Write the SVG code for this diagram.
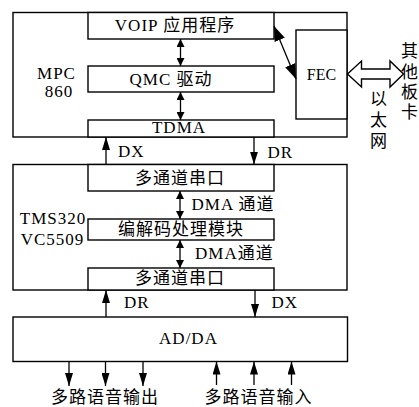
<svg xmlns="http://www.w3.org/2000/svg" width="419" height="407" viewBox="0 0 419 407">
<style>
.b{fill:#fff;stroke:#000;stroke-width:1.4}
.t{font-family:"Liberation Serif","Noto Sans CJK SC",serif;font-size:17px;letter-spacing:1px;fill:#000}
.m{text-anchor:middle}
.c{stroke:#000;stroke-width:1.3;fill:none}
</style>
<defs>
<marker id="s" markerUnits="userSpaceOnUse" markerWidth="8" markerHeight="8" refX="8" refY="4" orient="auto-start-reverse"><path d="M0,0L8,4L0,8z" fill="#000"/></marker>
<marker id="l" markerUnits="userSpaceOnUse" markerWidth="13" markerHeight="8" refX="13" refY="4" orient="auto-start-reverse"><path d="M0,0L13,4L0,8z" fill="#000"/></marker>
<marker id="d" markerUnits="userSpaceOnUse" markerWidth="15" markerHeight="11" refX="15" refY="5.5" orient="auto-start-reverse"><path d="M0,0L15,5.5L0,11z" fill="#000"/></marker>
</defs>
<g id="mpc860">
<rect class="b" x="13" y="12.5" width="334" height="124.5"/>
<text class="t m" x="56.5" y="79">MPC</text>
<text class="t m" x="59" y="97">860</text>
</g>
<g id="voip"><rect class="b" x="88" y="12.5" width="186" height="26.5"/><text class="t m" x="175" y="31">VOIP 应用程序</text></g>
<g id="qmc"><rect class="b" x="88" y="66" width="186" height="26"/><text class="t m" x="171" y="85">QMC 驱动</text></g>
<g id="tdma"><rect class="b" x="88" y="120" width="186" height="17"/><text class="t m" x="179" y="133">TDMA</text></g>
<g id="fec"><rect class="b" x="296" y="30" width="51" height="89"/><text class="t m" x="321.5" y="80" style="font-size:16px;letter-spacing:0">FEC</text></g>
<g id="tms320">
<rect class="b" x="13" y="164.5" width="334" height="125.5"/>
<text class="t m" x="53" y="224">TMS320</text>
<text class="t m" x="52.5" y="245">VC5509</text>
</g>
<g id="serial1"><rect class="b" x="88" y="164.5" width="186" height="26.5"/><text class="t m" x="180" y="184">多通道串口</text></g>
<g id="codec"><rect class="b" x="88" y="219" width="186" height="21"/><text class="t m" x="181" y="235">编解码处理模块</text></g>
<g id="serial2"><rect class="b" x="88" y="268" width="186" height="22"/><text class="t m" x="180" y="284">多通道串口</text></g>
<g id="adda"><rect class="b" x="13" y="317" width="334.5" height="44.5"/><text class="t m" x="188.5" y="344">AD/DA</text></g>
<g id="other">
<text class="t m" x="410" y="56.5">其</text>
<text class="t m" x="410" y="77.5">他</text>
<text class="t m" x="410" y="97.5">板</text>
<text class="t m" x="410" y="117.5">卡</text>
</g>
<g id="connectors">
<line class="c" x1="180.5" y1="39" x2="180.5" y2="66" marker-start="url(#s)" marker-end="url(#s)"/>
<line class="c" x1="180.5" y1="92" x2="180.5" y2="120" marker-start="url(#s)" marker-end="url(#s)"/>
<line class="c" x1="274" y1="26" x2="296" y2="79" marker-start="url(#d)" marker-end="url(#d)"/>
<polygon class="b" points="347.5,74 361.5,61 361.5,69 390,69 390,61 403.5,74 390,87 390,79 361.5,79 361.5,87"/>
<text class="t m" x="379" y="104.5">以</text>
<text class="t m" x="379" y="125.5">太</text>
<text class="t m" x="379" y="146.5">网</text>
<line class="c" x1="106" y1="164.5" x2="106" y2="137" marker-end="url(#l)"/>
<text class="t" x="118" y="157">DX</text>
<line class="c" x1="254" y1="137" x2="254" y2="164.5" marker-end="url(#l)"/>
<text class="t" x="267.5" y="158">DR</text>
<line class="c" x1="180" y1="191" x2="180" y2="219" marker-start="url(#s)" marker-end="url(#s)"/>
<text class="t" x="191.5" y="210">DMA 通道</text>
<line class="c" x1="180" y1="240" x2="180" y2="268" marker-start="url(#s)" marker-end="url(#s)"/>
<text class="t" x="195" y="259">DMA通道</text>
<line class="c" x1="106" y1="317" x2="106" y2="290" marker-end="url(#l)"/>
<text class="t" x="124" y="308">DR</text>
<line class="c" x1="255" y1="290" x2="255" y2="317" marker-end="url(#l)"/>
<text class="t" x="271.5" y="308">DX</text>
<line class="c" x1="69" y1="361.5" x2="69" y2="386" marker-end="url(#l)"/>
<line class="c" x1="105.5" y1="361.5" x2="105.5" y2="386" marker-end="url(#l)"/>
<line class="c" x1="143" y1="361.5" x2="143" y2="386" marker-end="url(#l)"/>
<line class="c" x1="216.5" y1="385" x2="216.5" y2="361.5" marker-end="url(#l)"/>
<line class="c" x1="254" y1="385" x2="254" y2="361.5" marker-end="url(#l)"/>
<line class="c" x1="291.5" y1="385" x2="291.5" y2="361.5" marker-end="url(#l)"/>
<text class="t m" x="105" y="403">多路语音输出</text>
<text class="t m" x="258.5" y="403">多路语音输入</text>
</g>
</svg>
